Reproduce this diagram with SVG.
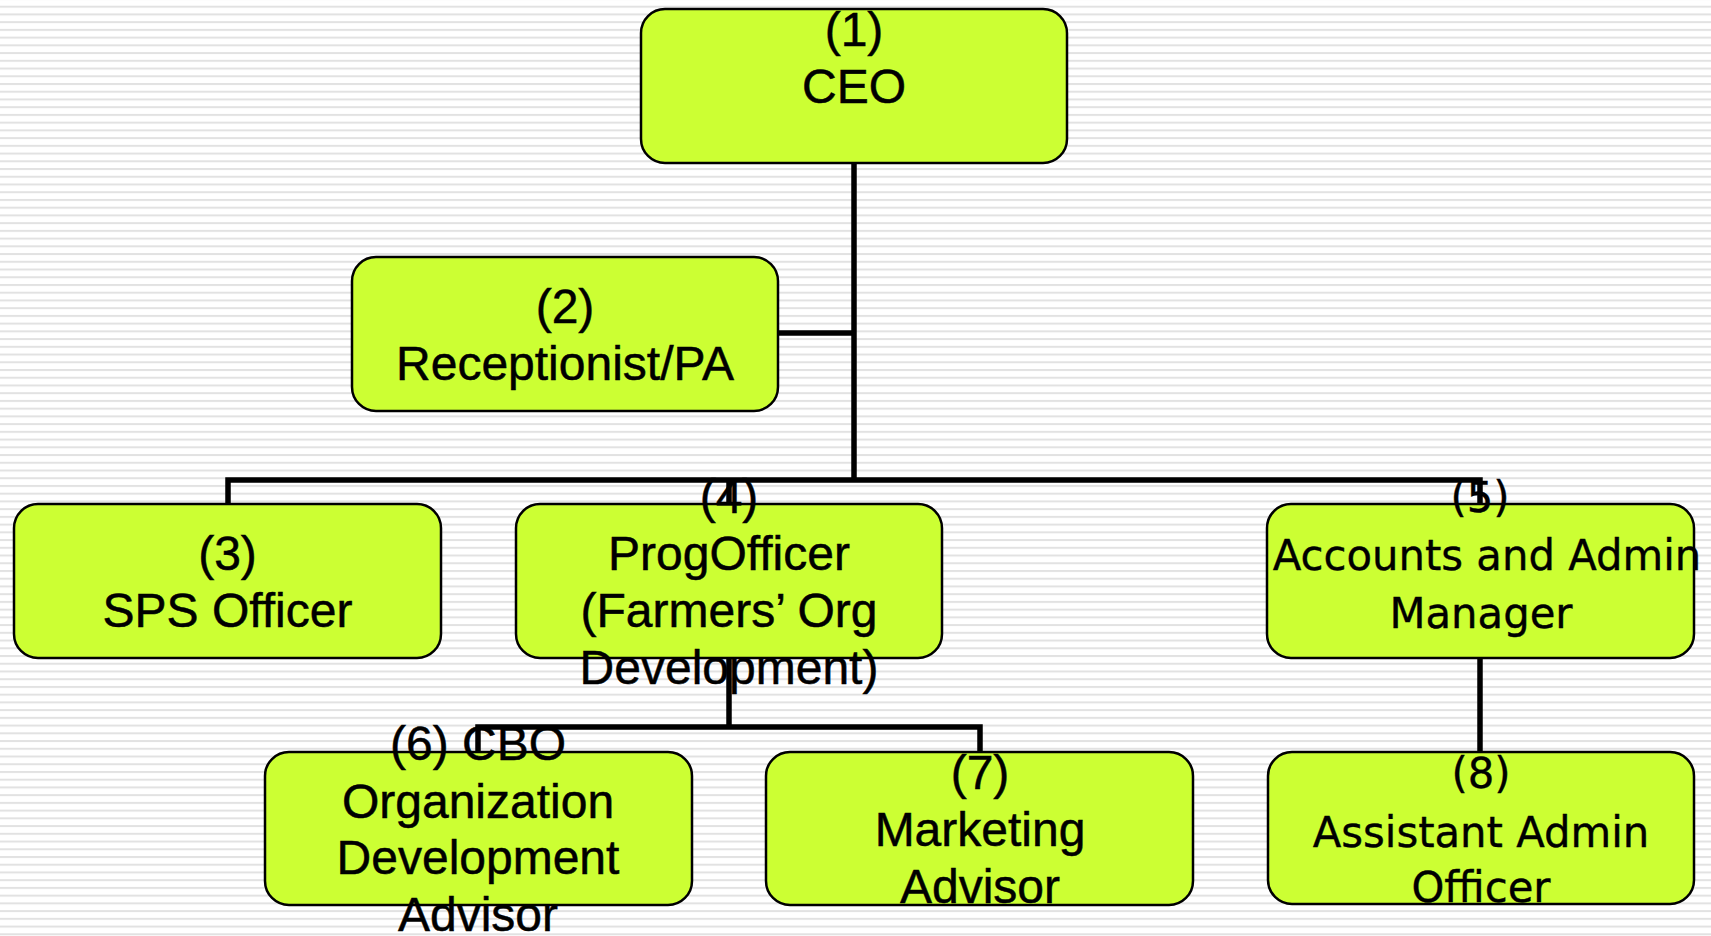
<svg xmlns="http://www.w3.org/2000/svg" width="1711" height="936" viewBox="0 0 1711 936">
<defs>
<pattern id="stripes" patternUnits="userSpaceOnUse" x="0" y="5.7" width="16" height="7.73">
<rect x="0" y="0" width="16" height="2" fill="#e2e2e2"/>
</pattern>
</defs>
<style>
.box{fill:#ccff33;stroke:#000;stroke-width:2.5}
.conn{fill:none;stroke:#000;stroke-width:5.5;stroke-linejoin:miter;stroke-linecap:butt}
.t{font-family:"Liberation Sans",Arial,sans-serif;font-size:48px;fill:#000;stroke:#000;stroke-width:0.5;text-anchor:middle}
.v{font-family:"DejaVu Sans",Verdana,sans-serif;font-size:43.5px;fill:#000;stroke:#000;stroke-width:0.4;text-anchor:middle}
</style>
<rect width="1711" height="936" fill="#ffffff"/>
<rect width="1711" height="936" fill="url(#stripes)"/>
<g id="connectors">
<path class="conn" d="M854 163 V480"/>
<path class="conn" d="M778 333 H854"/>
<path class="conn" d="M228 504 V480 H1480 V504"/>
<path class="conn" d="M729 480 V504"/>
<path class="conn" d="M729 658 V727"/>
<path class="conn" d="M478 752 V727 H980 V752"/>
<path class="conn" d="M1480 658 V752"/>
</g>
<g id="node1">
<rect class="box" x="641" y="9" width="426" height="154" rx="24"/>
<text class="t" x="854" y="46">(1)</text>
<text class="t" x="854" y="103">CEO</text>
</g>
<g id="node2">
<rect class="box" x="352" y="257" width="426" height="154" rx="24"/>
<text class="t" x="565" y="323">(2)</text>
<text class="t" x="565" y="380">Receptionist/PA</text>
</g>
<g id="node3">
<rect class="box" x="14" y="504" width="427" height="154" rx="24"/>
<text class="t" x="227.5" y="570">(3)</text>
<text class="t" x="227.5" y="627">SPS Officer</text>
</g>
<g id="node4">
<rect class="box" x="516" y="504" width="426" height="154" rx="24"/>
<text class="t" x="729" y="513">(4)</text>
<text class="t" x="729" y="570">ProgOfficer</text>
<text class="t" x="729" y="627">(Farmers’ Org</text>
<text class="t" x="729" y="684">Development)</text>
</g>
<g id="node5">
<rect class="box" x="1267" y="504" width="427" height="154" rx="24"/>
<text class="v" transform="translate(1480 0) scale(0.96 1)" x="0" y="512">(5)</text>
<text class="v" transform="translate(1487 0) scale(0.96 1)" x="0" y="570">Accounts and Admin</text>
<text class="v" transform="translate(1481 0) scale(0.96 1)" x="0" y="628">Manager</text>
</g>
<g id="node6">
<rect class="box" x="265" y="752" width="427" height="153" rx="24"/>
<text class="t" x="478" y="760">(6) CBO</text>
<text class="t" x="478" y="818">Organization</text>
<text class="t" x="478" y="874">Development</text>
<text class="t" x="478" y="931">Advisor</text>
</g>
<g id="node7">
<rect class="box" x="766" y="752" width="427" height="153" rx="24"/>
<text class="t" x="980" y="789">(7)</text>
<text class="t" x="980" y="846">Marketing</text>
<text class="t" x="980" y="903">Advisor</text>
</g>
<g id="node8">
<rect class="box" x="1268" y="752" width="426" height="152" rx="24"/>
<text class="v" transform="translate(1481 0) scale(0.96 1)" x="0" y="788">(8)</text>
<text class="v" transform="translate(1481 0) scale(0.96 1)" x="0" y="847">Assistant Admin</text>
<text class="v" transform="translate(1481 0) scale(0.96 1)" x="0" y="902">Officer</text>
</g>
</svg>
